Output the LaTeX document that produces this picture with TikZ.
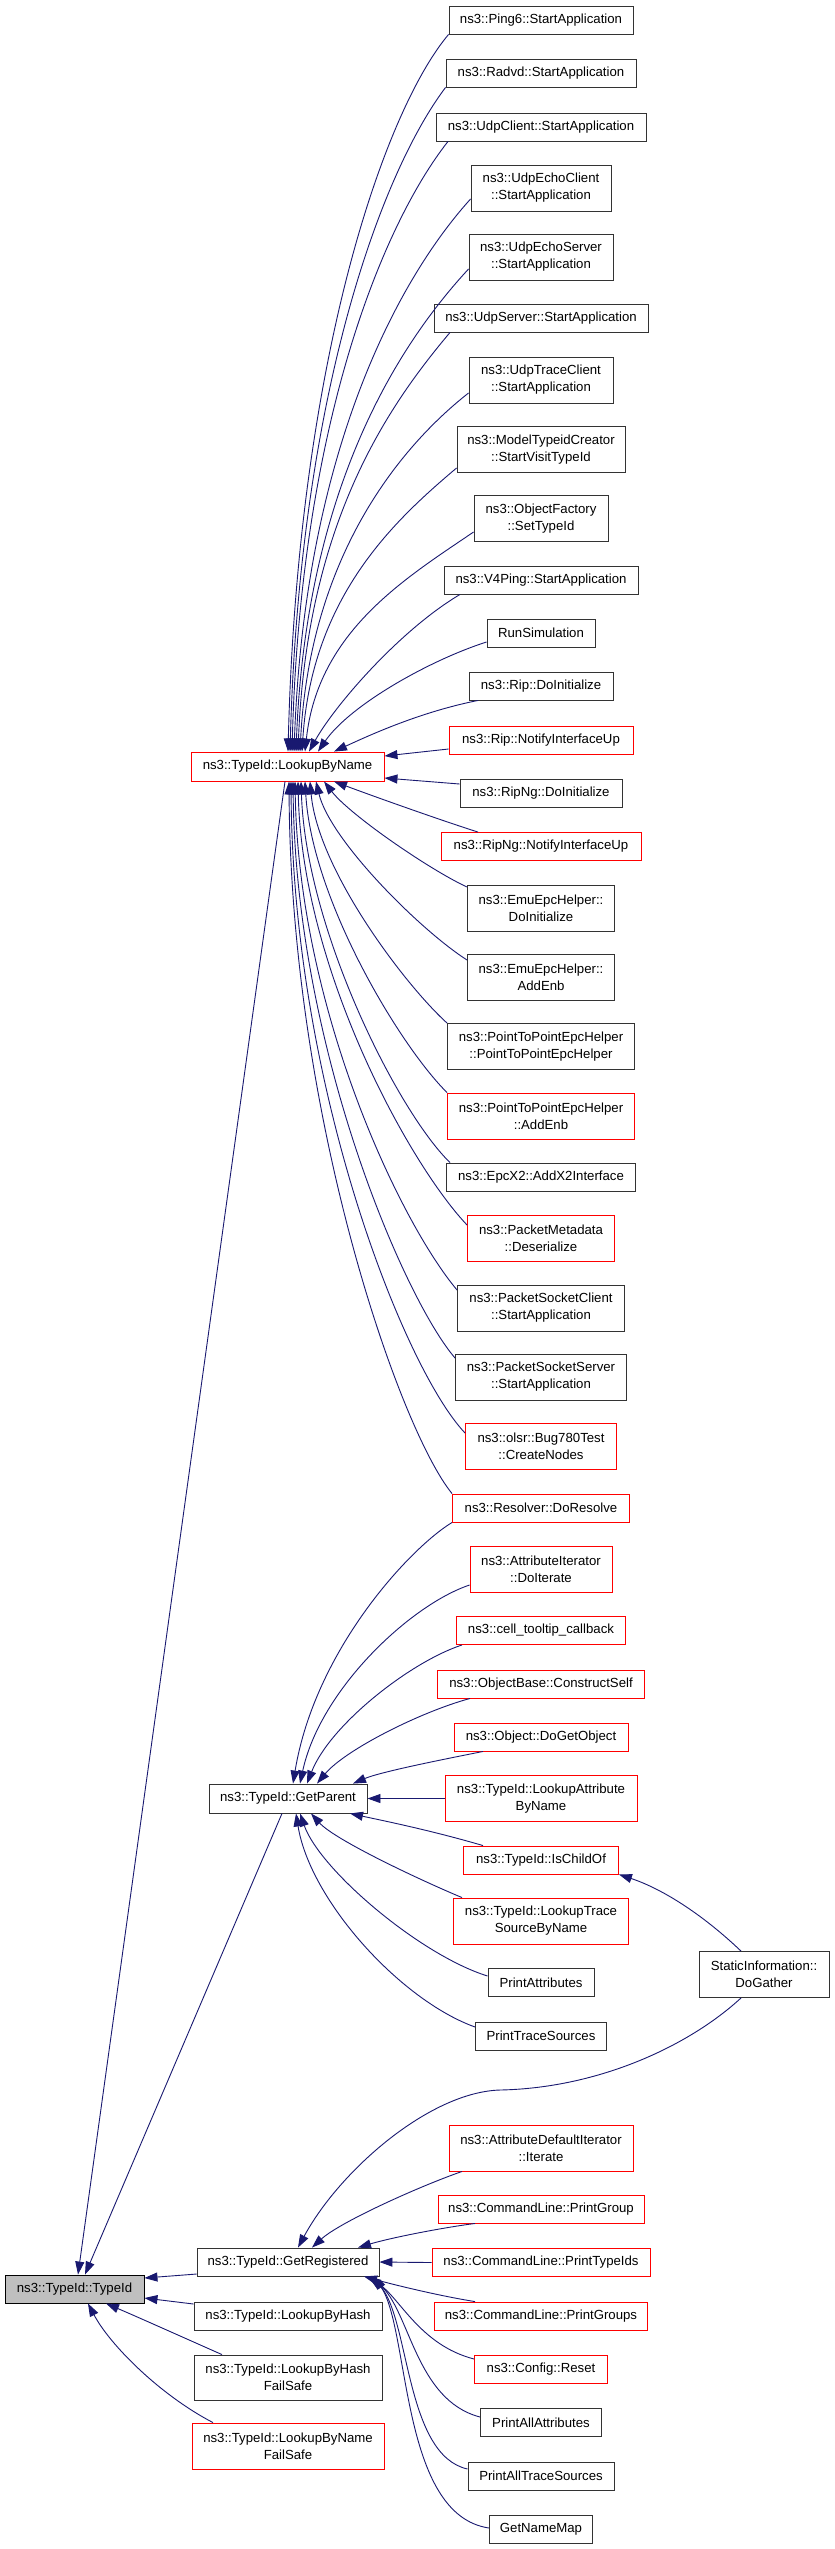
\documentclass[tikz,border=0pt]{standalone}
\usepackage{fontspec}
\setmainfont{Liberation Sans}
\usetikzlibrary{arrows.meta}
\definecolor{mblue}{HTML}{191970}
\definecolor{boxgray}{HTML}{BFBFBF}
\definecolor{bred}{HTML}{FF0000}
\definecolor{bdark}{HTML}{333333}
\newcommand\nodefont{\fontsize{13.2}{17}\selectfont}
\tikzset{
  box/.style={draw=bdark, line width=0.9pt, inner sep=0pt, align=center, font=\nodefont, minimum height=28pt, fill=white},
  rbox/.style={box, draw=bred},
  two/.style={minimum height=46pt},
  edge/.style={draw=mblue, line width=0.9pt, -{Triangle[length=13pt,width=9pt]}, mblue},
}
\begin{document}
\begin{tikzpicture}[x=1pt,y=-1pt]
\useasboundingbox[fill=white] (0,0) rectangle (835,2549);

% ---- right column: callers of LookupByName
\node[box,minimum width=184pt] (ping6) at (541,20) {ns3::Ping6::StartApplication};
\node[box,minimum width=190pt] (radvd) at (541,73) {ns3::Radvd::StartApplication};
\node[box,minimum width=210pt] (udpclient) at (541,127) {ns3::UdpClient::StartApplication};
\node[box,two,minimum width=140pt] (uec) at (541,188) {ns3::UdpEchoClient\\::StartApplication};
\node[box,two,minimum width=144pt] (ues) at (541,257) {ns3::UdpEchoServer\\::StartApplication};
\node[box,minimum width=214pt] (udpserver) at (541,318) {ns3::UdpServer::StartApplication};
\node[box,two,minimum width=144pt] (utc) at (541,380) {ns3::UdpTraceClient\\::StartApplication};
\node[box,two,minimum width=168pt] (mtc) at (541,449.5) {ns3::ModelTypeidCreator\\::StartVisitTypeId};
\node[box,two,minimum width=134pt] (of) at (541,518.5) {ns3::ObjectFactory\\::SetTypeId};
\node[box,minimum width=194pt] (v4) at (541,580) {ns3::V4Ping::StartApplication};
\node[box,minimum width=108pt] (runsim) at (541,633) {RunSimulation};
\node[box,minimum width=144pt] (ripdi) at (541,686) {ns3::Rip::DoInitialize};
\node[rbox,minimum width=184pt] (ripnu) at (541,740) {ns3::Rip::NotifyInterfaceUp};
\node[box,minimum width=162pt] (ripngdi) at (541,793) {ns3::RipNg::DoInitialize};
\node[rbox,minimum width=200pt] (ripngnu) at (541,846.5) {ns3::RipNg::NotifyInterfaceUp};
\node[box,two,minimum width=147pt] (emudi) at (541,908) {ns3::EmuEpcHelper::\\DoInitialize};
\node[box,two,minimum width=147pt] (emuae) at (541,977) {ns3::EmuEpcHelper::\\AddEnb};
\node[box,two,minimum width=187pt] (p2pc) at (541,1046.5) {ns3::PointToPointEpcHelper\\::PointToPointEpcHelper};
\node[rbox,two,minimum width=187pt] (p2pa) at (541,1116) {ns3::PointToPointEpcHelper\\::AddEnb};
\node[box,minimum width=189pt] (epcx2) at (541,1177) {ns3::EpcX2::AddX2Interface};
\node[rbox,two,minimum width=147pt] (pktmeta) at (541,1238) {ns3::PacketMetadata\\::Deserialize};
\node[box,two,minimum width=167pt] (pscli) at (541,1308) {ns3::PacketSocketClient\\::StartApplication};
\node[box,two,minimum width=171pt] (psserv) at (541,1377) {ns3::PacketSocketServer\\::StartApplication};
\node[rbox,two,minimum width=151pt] (bug) at (541,1446.5) {ns3::olsr::Bug780Test\\::CreateNodes};
\node[rbox,minimum width=177pt] (resolver) at (541,1508) {ns3::Resolver::DoResolve};
% ---- callers of GetParent
\node[rbox,two,minimum width=142pt] (attrit) at (541,1569.5) {ns3::AttributeIterator\\::DoIterate};
\node[rbox,minimum width=169pt] (celltip) at (541,1630.5) {ns3::cell\_tooltip\_callback};
\node[rbox,minimum width=207pt] (cself) at (541,1684) {ns3::ObjectBase::ConstructSelf};
\node[rbox,minimum width=174pt] (dgo) at (541,1737) {ns3::Object::DoGetObject};
\node[rbox,two,minimum width=192pt] (lattr) at (541,1798.5) {ns3::TypeId::LookupAttribute\\ByName};
\node[rbox,minimum width=155pt] (ischild) at (541,1860) {ns3::TypeId::IsChildOf};
\node[rbox,two,minimum width=175pt] (ltrace) at (541,1921) {ns3::TypeId::LookupTrace\\SourceByName};
\node[box,minimum width=106pt] (pattr) at (541,1982.5) {PrintAttributes};
\node[box,minimum width=131pt] (ptrace) at (541,2036) {PrintTraceSources};
\node[box,two,minimum width=130pt] (sg) at (764,1974.5) {StaticInformation::\\DoGather};
% ---- callers of GetRegistered
\node[rbox,two,minimum width=184pt] (adi) at (541,2148) {ns3::AttributeDefaultIterator\\::Iterate};
\node[rbox,minimum width=206pt] (pgroup) at (541,2209) {ns3::CommandLine::PrintGroup};
\node[rbox,minimum width=218pt] (ptid) at (541,2262.5) {ns3::CommandLine::PrintTypeIds};
\node[rbox,minimum width=213pt] (pgroups) at (541,2316) {ns3::CommandLine::PrintGroups};
\node[rbox,minimum width=133pt] (creset) at (541,2369) {ns3::Config::Reset};
\node[box,minimum width=121pt] (paa) at (541,2422.5) {PrintAllAttributes};
\node[box,minimum width=146pt] (pat) at (541,2476) {PrintAllTraceSources};
\node[box,minimum width=103pt] (gnm) at (541,2529) {GetNameMap};
% ---- middle column
\node[rbox,minimum width=193pt,minimum height=29pt] (lbn) at (287.5,766.5) {ns3::TypeId::LookupByName};
\node[box,minimum width=158pt,minimum height=29pt] (gp) at (288,1798.5) {ns3::TypeId::GetParent};
\node[box,minimum width=182pt] (gr) at (288,2262) {ns3::TypeId::GetRegistered};
\node[box,minimum width=188pt] (lbh) at (288,2316) {ns3::TypeId::LookupByHash};
\node[box,two,minimum width=188pt,minimum height=45pt] (lbhfs) at (288,2377.5) {ns3::TypeId::LookupByHash\\FailSafe};
\node[rbox,two,minimum width=192pt] (lbnfs) at (288,2446) {ns3::TypeId::LookupByName\\FailSafe};
% ---- left
\node[box,draw=black,fill=boxgray,minimum width=139pt] (typeid) at (74.5,2289) {ns3::TypeId::TypeId};

% ==== edges to LookupByName (top)
\draw[edge] (ping6.south west) .. controls (385,110) and (298,357) .. (lbn.north -| 288,0);
\draw[edge] (radvd.south west) .. controls (384,169) and (300,386) .. (lbn.north -| 290,0);
\draw[edge] (udpclient.south -| 448,0) .. controls (386,220) and (301,416) .. (lbn.north -| 292,0);
\draw[edge] (uec.west |- 0,199) .. controls (400,277) and (305,448) .. (lbn.north -| 294,0);
\draw[edge] (ues.west |- 0,269) .. controls (400,343) and (306,486) .. (lbn.north -| 296,0);
\draw[edge] (udpserver.south -| 450,0) .. controls (389,405) and (307,521) .. (lbn.north -| 298,0);
\draw[edge] (utc.west |- 0,393) .. controls (401,446) and (310,555) .. (lbn.north -| 300,0);
\draw[edge] (mtc.west |- 0,468) .. controls (395,520) and (312,596) .. (lbn.north -| 302,0);
\draw[edge] (of.west |- 0,532) .. controls (406,578) and (318,631) .. (lbn.north -| 305,0);
\draw[edge] (v4.south -| 460,0) .. controls (400,630) and (335,705) .. (lbn.north -| 309,0);
\draw[edge] (runsim.west |- 0,642) .. controls (430,660) and (350,705) .. (lbn.north -| 318,0);
\draw[edge] (ripdi.south -| 478,0) .. controls (420,712) and (370,735) .. (lbn.north -| 334,0);
% right side
\draw[edge] (ripnu.west |- 0,749) -- (lbn.east |- 0,756);
\draw[edge] (ripngdi.west |- 0,784) -- (lbn.east |- 0,778);
% bottom
\draw[edge] (ripngnu.north -| 478,0) .. controls (440,820) and (370,795) .. (lbn.south -| 334,0);
\draw[edge] (emudi.west |- 0,887) .. controls (430,870) and (350,815) .. (lbn.south -| 324,0);
\draw[edge] (emuae.west |- 0,960) .. controls (420,930) and (330,840) .. (lbn.south -| 316,0);
\draw[edge] (p2pc.north west) .. controls (405,985) and (318,870) .. (lbn.south -| 310,0);
\draw[edge] (p2pa.north west) .. controls (400,1046) and (312,900) .. (lbn.south -| 305,0);
\draw[edge] (epcx2.north -| 450,0) .. controls (398,1112) and (306,930) .. (lbn.south -| 301,0);
\draw[edge] (pktmeta.west |- 0,1225) .. controls (410,1165) and (302,970) .. (lbn.south -| 298,0);
\draw[edge] (pscli.west |- 0,1290) .. controls (400,1222) and (299,1010) .. (lbn.south -| 295,0);
\draw[edge] (psserv.west |- 0,1358) .. controls (405,1300) and (296,1050) .. (lbn.south -| 293,0);
\draw[edge] (bug.west |- 0,1433) .. controls (405,1370) and (293,1090) .. (lbn.south -| 291,0);
\draw[edge] (resolver.north west) .. controls (400,1430) and (291,1120) .. (lbn.south -| 289,0);

% ==== edges to GetParent
\draw[edge] (resolver.south west) .. controls (410,1548) and (315,1650) .. (gp.north -| 293,0);
\draw[edge] (attrit.west |- 0,1585) .. controls (410,1605) and (320,1690) .. (gp.north -| 300,0);
\draw[edge] (celltip.south -| 462,0) .. controls (410,1662) and (330,1725) .. (gp.north -| 307,0);
\draw[edge] (cself.south -| 470,0) .. controls (420,1712) and (345,1750) .. (gp.north -| 317,0);
\draw[edge] (dgo.south -| 483,0) .. controls (440,1760) and (380,1772) .. (gp.north -| 353,0);
\draw[edge] (lattr.west) -- (gp.east);
\draw[edge] (ischild.north -| 483,0) .. controls (430,1830) and (380,1820) .. (gp.south -| 350,0);
\draw[edge] (ltrace.north -| 462,0) .. controls (420,1880) and (335,1840) .. (gp.south -| 311,0);
\draw[edge] (pattr.west |- 0,1976) .. controls (420,1955) and (320,1870) .. (gp.south -| 300,0);
\draw[edge] (ptrace.west |- 0,2027) .. controls (400,2000) and (310,1900) .. (gp.south -| 296,0);

% ==== StaticInformation::DoGather
\draw[edge] (sg.north -| 741,0) .. controls (700,1912) and (660,1888) .. (ischild.south east);
\coordinate (sgmid) at (500,2090);
\draw[edge] (sg.south -| 741,0) .. controls (690,2045) and (600,2088) .. (sgmid) .. controls (430,2092) and (340,2170) .. (gr.north -| 298,0);

% ==== edges to GetRegistered
\draw[edge] (adi.south -| 462,0) .. controls (420,2186) and (340,2222) .. (gr.north -| 312,0);
\draw[edge] (pgroup.south -| 475,0) .. controls (440,2228) and (390,2238) .. (gr.north -| 358,0);
\draw[edge] (ptid.west) -- (gr.east);
\draw[edge] (pgroups.north -| 475,0) .. controls (440,2296) and (395,2285) .. (gr.south -| 364,0);
\draw[edge] (creset.west |- 0,2359) .. controls (420,2345) and (400,2298) .. (gr.south -| 368,0);
\draw[edge] (paa.west |- 0,2417) .. controls (415,2400) and (410,2310) .. (gr.south -| 370,0);
\draw[edge] (pat.west |- 0,2469) .. controls (405,2455) and (410,2320) .. (gr.south -| 372,0);
\draw[edge] (gnm.west |- 0,2528) .. controls (400,2515) and (410,2330) .. (gr.south -| 374,0);

% ==== edges to TypeId
\draw[edge] (lbn.south -| 285,0) -- (typeid.north -| 78,0);
\draw[edge] (gp.south -| 282,0) -- (typeid.north -| 85,0);
\draw[edge] (gr.west |- 0,2274) -- (typeid.east |- 0,2278);
\draw[edge] (lbh.west |- 0,2304) -- (typeid.east |- 0,2298);
\draw[edge] (lbhfs.north -| 222,0) .. controls (180,2336) and (140,2318) .. (typeid.south -| 106,0);
\draw[edge] (lbnfs.north -| 213,0) .. controls (160,2395) and (110,2345) .. (typeid.south -| 88,0);
\end{tikzpicture}
\end{document}
